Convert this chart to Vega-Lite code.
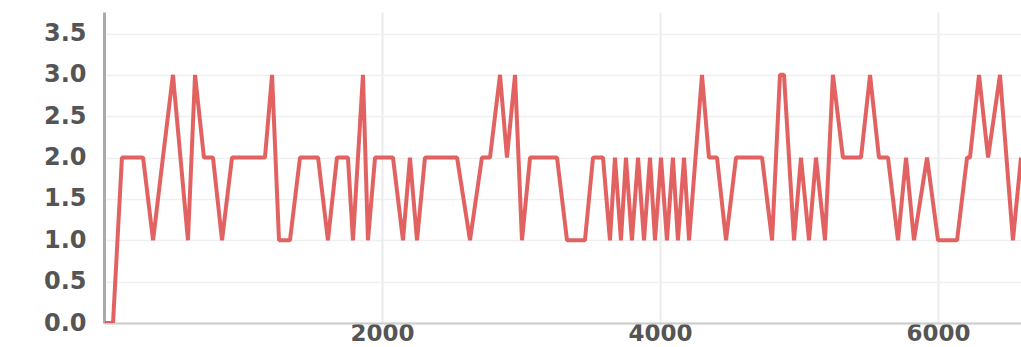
{
  "$schema": "https://vega.github.io/schema/vega-lite/v6.json",
  "autosize": "none",
  "width": 917,
  "height": 311,
  "padding": {"left": 104, "top": 12, "right": 0, "bottom": 24},
  "background": "white",
  "config": {"view": {"stroke": null}},
  "data": {"values": [
    {"x": 7, "y": 0}, {"x": 65, "y": 0}, {"x": 129, "y": 2}, {"x": 281, "y": 2},
    {"x": 353, "y": 1}, {"x": 424, "y": 2}, {"x": 496, "y": 3}, {"x": 604, "y": 1},
    {"x": 655, "y": 3}, {"x": 719, "y": 2}, {"x": 784, "y": 2}, {"x": 849, "y": 1},
    {"x": 921, "y": 2}, {"x": 1158, "y": 2}, {"x": 1209, "y": 3}, {"x": 1259, "y": 1},
    {"x": 1338, "y": 1}, {"x": 1410, "y": 2}, {"x": 1540, "y": 2}, {"x": 1611, "y": 1},
    {"x": 1676, "y": 2}, {"x": 1755, "y": 2}, {"x": 1791, "y": 1}, {"x": 1863, "y": 3},
    {"x": 1899, "y": 1}, {"x": 1950, "y": 2}, {"x": 2079, "y": 2}, {"x": 2151, "y": 1},
    {"x": 2201, "y": 2}, {"x": 2252, "y": 1}, {"x": 2309, "y": 2}, {"x": 2540, "y": 2},
    {"x": 2633, "y": 1}, {"x": 2719, "y": 2}, {"x": 2777, "y": 2}, {"x": 2849, "y": 3},
    {"x": 2899, "y": 2}, {"x": 2957, "y": 3}, {"x": 3007, "y": 1}, {"x": 3065, "y": 2},
    {"x": 3259, "y": 2}, {"x": 3331, "y": 1}, {"x": 3460, "y": 1}, {"x": 3518, "y": 2},
    {"x": 3590, "y": 2}, {"x": 3640, "y": 1}, {"x": 3676, "y": 2}, {"x": 3719, "y": 1},
    {"x": 3755, "y": 2}, {"x": 3798, "y": 1}, {"x": 3842, "y": 2}, {"x": 3885, "y": 1},
    {"x": 3928, "y": 2}, {"x": 3964, "y": 1}, {"x": 4007, "y": 2}, {"x": 4050, "y": 1},
    {"x": 4093, "y": 2}, {"x": 4129, "y": 1}, {"x": 4173, "y": 2}, {"x": 4209, "y": 1},
    {"x": 4302, "y": 3}, {"x": 4352, "y": 2}, {"x": 4410, "y": 2}, {"x": 4475, "y": 1},
    {"x": 4547, "y": 2}, {"x": 4734, "y": 2}, {"x": 4806, "y": 1}, {"x": 4863, "y": 3},
    {"x": 4892, "y": 3}, {"x": 4964, "y": 1}, {"x": 5014, "y": 2}, {"x": 5072, "y": 1},
    {"x": 5122, "y": 2}, {"x": 5187, "y": 1}, {"x": 5244, "y": 3}, {"x": 5316, "y": 2},
    {"x": 5446, "y": 2}, {"x": 5511, "y": 3}, {"x": 5575, "y": 2}, {"x": 5640, "y": 2},
    {"x": 5712, "y": 1}, {"x": 5770, "y": 2}, {"x": 5827, "y": 1}, {"x": 5921, "y": 2},
    {"x": 6000, "y": 1}, {"x": 6137, "y": 1}, {"x": 6209, "y": 2}, {"x": 6230, "y": 2},
    {"x": 6295, "y": 3}, {"x": 6360, "y": 2}, {"x": 6446, "y": 3}, {"x": 6539, "y": 1},
    {"x": 6597, "y": 2}
  ]},
  "mark": {"type": "line", "color": "#e05555", "strokeWidth": 4, "strokeJoin": "bevel", "opacity": 0.92, "clip": true},
  "encoding": {
    "x": {
      "field": "x", "type": "quantitative",
      "scale": {"domain": [0, 6597], "nice": false, "zero": false},
      "axis": {
        "title": null, "values": [2000, 4000, 6000], "format": "d",
        "ticks": false, "labelPadding": -1,
        "labelFont": "DejaVu Sans", "labelFontSize": 23, "labelFontWeight": "bold", "labelColor": "#555",
        "domainColor": "#cccccc", "domainWidth": 2,
        "grid": true, "gridColor": "#ebebeb", "gridWidth": 2
      }
    },
    "y": {
      "field": "y", "type": "quantitative",
      "scale": {"domain": [0, 3.76], "nice": false},
      "axis": {
        "title": null, "values": [0, 0.5, 1, 1.5, 2, 2.5, 3, 3.5], "format": ".1f",
        "ticks": false, "labelPadding": 18,
        "labelFont": "DejaVu Sans", "labelFontSize": 24, "labelFontWeight": "bold", "labelColor": "#555",
        "domainColor": "#aaaaaa", "domainWidth": 3,
        "grid": true, "gridColor": "#efefef", "gridWidth": 1.5
      }
    }
  }
}
